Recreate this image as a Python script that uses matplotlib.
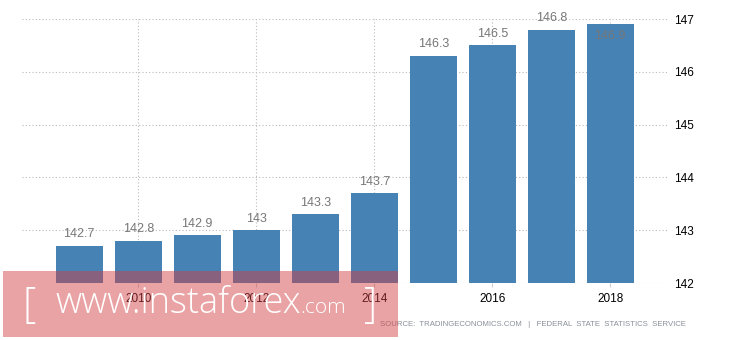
import numpy as np
import matplotlib.pyplot as plt
from matplotlib.patches import Rectangle

years = [2009, 2010, 2011, 2012, 2013, 2014, 2015, 2016, 2017, 2018]
values = [142.7, 142.8, 142.9, 143.0, 143.3, 143.7, 146.3, 146.5, 146.8, 146.9]
labels = ["142.7", "142.8", "142.9", "143", "143.3", "143.7", "146.3", "146.5", "146.8", "146.9"]
year_ticks = [2010, 2012, 2014, 2016, 2018]
y_ticks = [142, 143, 144, 145, 146, 147]

plt.rcParams['font.family'] = ['Liberation Sans', 'DejaVu Sans']

W, H = 730, 340
fig = plt.figure(figsize=(W / 100, H / 100), dpi=100)
ax = fig.add_axes([22 / W, (H - 283) / H, (668 - 22) / W, (283 - 19) / H])

bar_color = "#4682b4"
ax.bar(years, np.array(values) - 142, bottom=142, width=0.8, color=bar_color, zorder=2)

for x, v, lab in zip(years, values, labels):
    if v > 146.85:
        ax.annotate(lab, (x, v), xytext=(0, -4), textcoords="offset points",
                    ha="center", va="top", fontsize=9, color="#777777", zorder=3)
    else:
        ax.annotate(lab, (x, v), xytext=(0, 4), textcoords="offset points",
                    ha="center", va="bottom", fontsize=9, color="#777777", zorder=3)

ax.set_xlim(2008.03, 2018.98)
ax.set_ylim(142, 147)
ax.set_xticks(year_ticks)
ax.set_xticklabels([str(y) for y in year_ticks])
ax.set_yticks(y_ticks)
ax.yaxis.tick_right()
ax.tick_params(axis="y", length=0, pad=4, labelsize=8.5, labelcolor="black")
ax.tick_params(axis="x", length=3, color="#cccccc", pad=4, labelsize=8.5, labelcolor="black")

for s in ax.spines.values():
    s.set_visible(False)

ax.grid(True, axis="y", linestyle=(0, (1, 2)), color="#bbbbbb", linewidth=0.8, zorder=0)
ax.grid(True, axis="x", linestyle=(0, (1, 2)), color="#bbbbbb", linewidth=0.8, zorder=0)

fig.text(686 / W, (H - 325) / H,
         "SOURCE:  TRADINGECONOMICS.COM   |   FEDERAL  STATE  STATISTICS  SERVICE",
         ha="right", va="center", fontsize=5.6, color="#8a8f99")

# watermark overlay
fig.patches.append(Rectangle((3 / W, (H - 337) / H), (398 - 3) / W, (337 - 271) / H,
                             transform=fig.transFigure, facecolor=(211 / 255, 62 / 255, 66 / 255),
                             alpha=0.476, edgecolor="none", zorder=5))
base = (H - 313) / H
wm = dict(color="white", fontweight="light", family="Open Sans", zorder=6, va="baseline")
fig.text(22 / W, (H - 317) / H, "[", ha="left", fontsize=30, **wm)
t1 = fig.text(55 / W, base, "www.instaforex", ha="left", fontsize=26, **wm)
r = fig.canvas.get_renderer()
x_end = t1.get_window_extent(r).x1
fig.text(x_end / W, base, ".com", ha="left", fontsize=15, **wm)
fig.text(364 / W, (H - 317) / H, "]", ha="left", fontsize=30, **wm)

fig.savefig("out.png", dpi=100)
